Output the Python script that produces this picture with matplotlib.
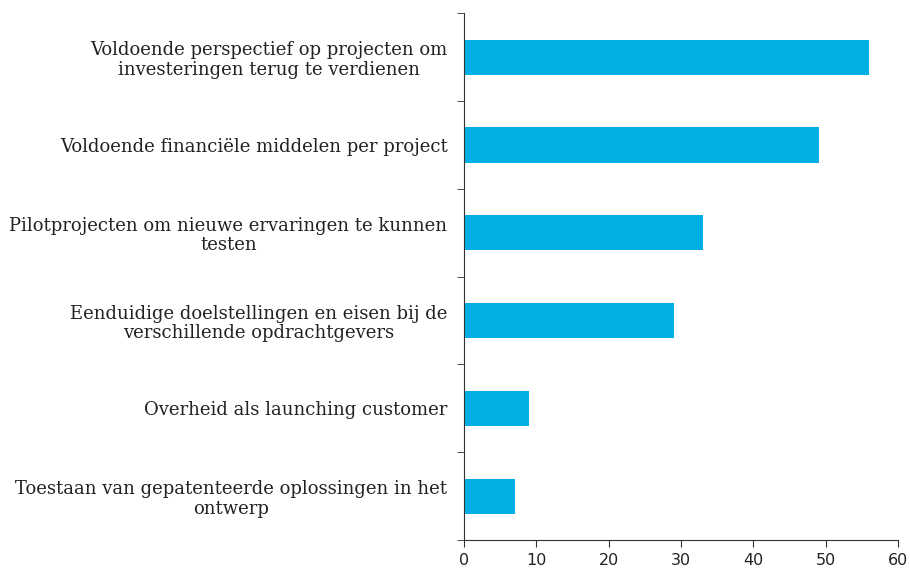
import matplotlib.pyplot as plt
import numpy as np

# Survey answers, top to bottom as shown
categories = [
    'Voldoende perspectief op projecten om\ninvesteringen terug te verdienen',
    'Voldoende financiële middelen per project',
    'Pilotprojecten om nieuwe ervaringen te kunnen\ntesten',
    'Eenduidige doelstellingen en eisen bij de\nverschillende opdrachtgevers',
    'Overheid als launching customer',
    'Toestaan van gepatenteerde oplossingen in het\nontwerp',
]
values = [56, 49, 33, 29, 9, 7]
xticks = [0, 10, 20, 30, 40, 50, 60]

fig = plt.figure(figsize=(9.1, 5.7), dpi=100)
ax = fig.add_axes([0.51, 0.0526, 0.477, 0.924])

y = np.arange(len(categories))
ax.barh(y, values, height=0.4, color='#00B0E4')

ax.set_xlim(0, 60)
ax.set_ylim(len(categories) - 0.5, -0.5)
ax.set_xticks(xticks)
ax.set_xticklabels([str(t) for t in xticks], fontsize=11.5, family='DejaVu Sans')

# category labels at bar centres, tick marks at the boundaries
ax.set_yticks(y)
ax.set_yticklabels(categories, fontsize=13, family=['DejaVu Serif'],
                   multialignment='center', linespacing=1.1, color='#222222')
ax.tick_params(axis='y', which='major', length=0, pad=12)
ax.set_yticks(np.arange(len(categories) + 1) - 0.5, minor=True)
ax.tick_params(axis='y', which='minor', length=5, color='#333333')
ax.tick_params(axis='x', length=5, color='#333333', pad=4, labelcolor='#222222')

for s in ['top', 'right']:
    ax.spines[s].set_visible(False)
for s in ['left', 'bottom']:
    ax.spines[s].set_color('#333333')

fig.savefig('out.png', dpi=100)
